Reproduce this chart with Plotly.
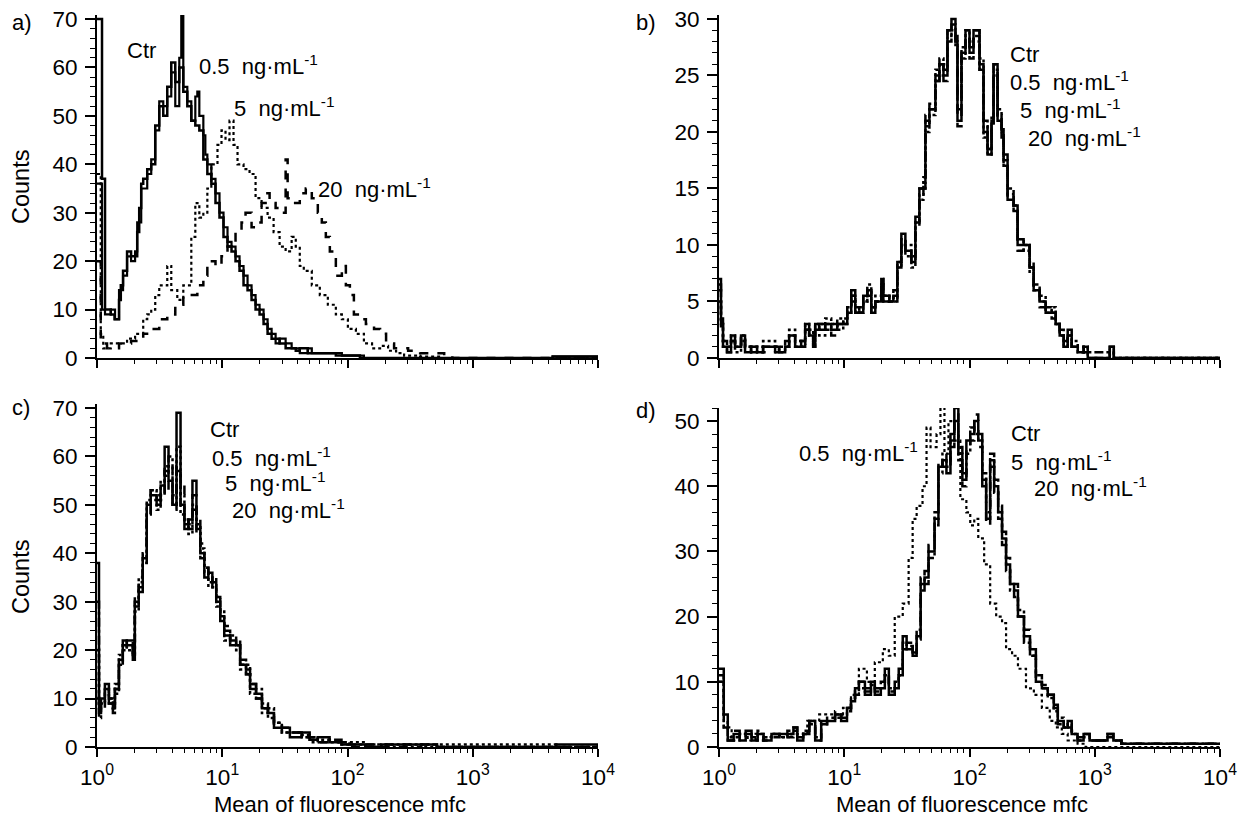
import plotly.graph_objects as go

W, H = 1243, 819
FONT = "Liberation Sans, Arial, sans-serif"

# ---------------- data (x stored as log10 of mean fluorescence) ----------------
# Panel a
a_ctr_logx = [0.000,0.040,0.064,0.110,0.140,0.176,0.190,0.208,0.240,0.272,
              0.304,0.321,0.337,0.353,0.369,0.401,0.433,0.465,0.497,0.529,
              0.561,0.593,0.625,0.657,0.689,0.721,0.753,0.785,0.817,0.849,
              0.881,0.913,0.946,0.978,1.010,1.042,1.074,1.106,1.138,1.170,
              1.202,1.234,1.266,1.298,1.330,1.362,1.394,1.426,1.458,1.506,
              1.554,1.587,1.619,1.683,1.747,1.843,1.907,2.003,2.099,3.638,4.000]
a_ctr_counts = [70,37,10,9,8,12,15,18,22,21,
                21,26,31,36,37,39,40,48,52,50,
                56,61,57,60,55,52,49,48,47,41,
                38,36,32,29,25,23,22,20,18,15,
                14,12,10,9,7,5,4,4,3,2,
                2,1.5,2,1,1,1,0.5,0.5,0,0.3,0.3]

a_05_logx = [0.000,0.040,0.064,0.110,0.144,0.176,0.208,0.240,0.272,0.304,
             0.321,0.353,0.401,0.433,0.465,0.497,0.529,0.561,0.593,0.625,
             0.657,0.673,0.689,0.721,0.753,0.785,0.801,0.817,0.849,0.865,
             0.881,0.913,0.946,0.978,1.010,1.042,1.074,1.106,1.138,1.170,
             1.202,1.234,1.266,1.298,1.330,1.362,1.394,1.426,1.458,1.506,
             1.554,1.619,1.683,1.715,1.779,1.875,1.955,2.067,2.131,3.638,4.000]
a_05_counts = [36,10,9,10,8,14,17,21,20,22,
               28,35,38,41,47,53,52,54,59,52,
               62,71,56,53,49,54,55,50,46,42,
               40,37,34,30,27,24,23,21,19,17,
               15,13,11,10,8,6,5,3,4,3,
               2,1,2,1,1,1,0.5,0.5,0,0.3,0.3]

a_5_logx = [0.000,0.030,0.050,0.110,0.176,0.240,0.304,0.369,0.401,0.433,
            0.465,0.497,0.561,0.593,0.641,0.689,0.753,0.785,0.817,0.849,
            0.881,0.913,0.962,0.994,1.026,1.058,1.090,1.122,1.170,1.218,
            1.266,1.314,1.362,1.410,1.458,1.506,1.554,1.587,1.619,1.651,
            1.715,1.779,1.843,1.907,1.955,2.003,2.067,2.131,2.196,2.260,
            2.324,2.388,2.452,2.580,2.740,4.000]
a_5_counts = [38,5,2,3,3,4,5,8,9,10,
              13,15,19,14,12,15,25,32,29,30,
              35,40,44,47,45,49,44,40,39,38,
              33,31,29,26,23,22,25,23,19,18,
              15,13,11,9,8,6,5,3,2,2.5,
              1.5,1,0.5,0.3,0,0]

a_20_logx = [0.000,0.030,0.080,0.176,0.272,0.369,0.433,0.497,0.561,0.625,
             0.689,0.753,0.801,0.849,0.881,0.946,0.994,1.042,1.074,1.106,
             1.154,1.186,1.234,1.266,1.314,1.346,1.378,1.426,1.474,1.506,
             1.522,1.571,1.619,1.667,1.715,1.763,1.795,1.827,1.859,1.907,
             1.955,1.987,2.019,2.051,2.099,2.147,2.212,2.260,2.308,2.372,
             2.420,2.484,2.580,2.676,2.772,2.837,4.000]
a_20_counts = [20,3,2,3,3.5,5,6,8,9,11,
               13,13,15,17,20,19,21,23,24,26,
               28,30,27,28,32,34,32,31,30,41,
               33,32,34,35,33,30,28,25,22,17,
               19,15,13,9,8,7,6,5,3,2,
               2,1.5,1,1,0.5,0,0]

# Panel b (all four series on a common channel grid)
b_logx = [0.000,0.016,0.032,0.064,0.096,0.128,0.176,0.208,0.256,0.304,
          0.352,0.448,0.480,0.528,0.560,0.608,0.656,0.688,0.720,0.752,
          0.768,0.800,0.848,0.896,0.944,0.992,1.024,1.056,1.088,1.120,
          1.152,1.184,1.216,1.248,1.296,1.312,1.360,1.392,1.424,1.456,
          1.488,1.536,1.568,1.600,1.632,1.648,1.680,1.728,1.760,1.792,
          1.824,1.856,1.888,1.904,1.936,1.968,2.000,2.032,2.080,2.112,
          2.144,2.176,2.192,2.224,2.256,2.272,2.304,2.352,2.384,2.432,
          2.480,2.512,2.560,2.608,2.656,2.688,2.720,2.752,2.784,2.816,
          2.864,2.912,2.944,3.120,3.152,4.000]
b_ctr = [7,3.5,1,0.5,2,1,2,0.5,1,0.5, 1,1,0.5,1,2,1,1.5,3,2,1,
         3,2.5,3,2.5,3,3,4,6,4,4, 5.5,6,4,5,7,5,5,5.5,8,11,
         9.5,8.5,12,15,15,21,22,25,26,25, 29,30,28,21,27,29,27,29,26,20,
         18,21,26,21,20,17.5,14,13.5,10,10, 8,6,5,4,4,3,2,1,2.5,1,
         0.5,1,0,1,0,0]
b_05 = [6,3,1.5,1,1.5,1,2,1,0.5,1, 1,0.5,1,1.5,2,1.5,1,2.5,2,1.5,
        2.5,3,2.5,3,3.5,3,4.5,5.5,4.5,4, 5,6.5,4.5,5,6.5,5.5,5,6,8.5,10.5,
        9,9,12.5,14.5,15.5,20,22.5,24.5,26.5,25.5, 28,29.5,28.5,22,27.5,28,27.5,28.5,25.5,21,
        18.5,20.5,25,21.5,19.5,17,14.5,13,10.5,9.5, 8.5,6.5,5,4.5,3.5,3,2.5,1.5,2,1,
        1,0.5,0.5,1,0,0]
b_5 = [5,3,1,1,2,0.5,1.5,1,1,0.5, 1.5,1,0.5,1,2.5,1,1,3,2.5,1,
       3,2,3.5,3,2.5,3.5,4,5.5,4,4.5, 5,6,4.5,5.5,6.5,5,5.5,5,8,10,
       10,8,12,14,16,20.5,21.5,25.5,25,26, 28.5,29,27.5,23,26.5,29,28,28,26.5,19.5,
       18,21.5,25.5,22,20.5,17,15,13,10.5,10, 7.5,6,5.5,4,4.5,3,2,1,2,1.5,
       0.5,1,0,0.5,0,0]
b_20 = [6.5,2.5,1.5,0.5,1.5,1,2,0.5,1,1, 0.5,1,1,1,1.5,1.5,1.5,2.5,2,1,
        2.5,3,3,2,3,3,4.5,5,4,4, 6,5.5,4,5,7,5.5,5,5,8.5,10.5,
        9.5,8.5,11.5,15,15,21.5,22,24.5,26,24.5, 29,28.5,28,20.5,27,28.5,26.5,29,25.5,20.5,
        18.5,20,26,21,20,18,14,13.5,9.5,10, 8,6.5,4.5,4,4,3.5,2,1,2,1,
        1,0.5,0,1,0,0]

# Panel c (common grid)
c_logx = [0.000,0.016,0.032,0.063,0.095,0.127,0.143,0.175,0.206,0.238,
          0.286,0.302,0.333,0.365,0.397,0.429,0.476,0.508,0.540,0.571,
          0.603,0.635,0.667,0.698,0.730,0.762,0.794,0.825,0.857,0.889,
          0.921,0.952,0.984,1.016,1.063,1.111,1.143,1.190,1.222,1.270,
          1.317,1.365,1.413,1.476,1.540,1.635,1.698,1.762,1.857,1.952,
          2.016,2.143,2.270,2.587,2.714,3.667,4.000]
c_ctr = [38,7,10,13,9,8,12,18,22,21, 18,30,33,39,50,52,50,54,62,55,
         50,69,50,45,47,55,45,40,35,36, 34,30,27,23,22,21,17,16,12,11,
         8,7,4,4,2,3,1.5,2,1,0.5, 0.5,0,0.5,0.5,0,0.5,0.5]
c_05 = [30,6,9,12,10,7,13,17,20,22, 19,29,35,40,48,53,51,52,58,60,
        52,57,48,47,45,50,47,39,37,34, 35,31,26,24,21,22,18,15,13,10,
        9,6,5,3,3,2,2,1,1.5,1, 0.5,0.5,0,0.5,0,0,0.5]
c_5 = [20,8,9,11,10,8,11,19,21,20, 19,28,34,38,51,51,49,55,56,58,
       50,62,52,46,44,49,46,41,36,33, 33,29,28,22,23,20,16,17,11,12,
       7,8,5,3,3,2.5,1,1.5,1,0.5, 1,0,0.5,0,0.5,0,0.5]
c_20 = [10,9,8,12,9,9,12,16,21,22, 20,31,32,37,47,53,52,51,57,53,
        49,58,54,47,46,52,44,42,37,35, 33,31,26,25,21,21,17,15,13,10,
        8,7,4,4,3,2,2,1,1,1, 0,0.5,0.5,0.5,0,0,0.5]

# Panel d
d_logx = [0.000,0.038,0.070,0.117,0.165,0.213,0.260,0.308,0.356,0.419,
          0.483,0.546,0.594,0.625,0.673,0.721,0.768,0.816,0.863,0.927,
          0.975,1.022,1.054,1.086,1.117,1.165,1.213,1.244,1.292,1.324,
          1.356,1.403,1.435,1.467,1.498,1.546,1.578,1.610,1.641,1.673,
          1.721,1.752,1.784,1.816,1.848,1.879,1.911,1.943,1.975,2.006,
          2.038,2.070,2.102,2.133,2.165,2.197,2.229,2.260,2.292,2.324,
          2.356,2.387,2.435,2.483,2.530,2.578,2.625,2.673,2.705,2.752,
          2.784,2.816,2.863,2.911,2.959,3.022,3.102,3.149,3.213,4.000]
d_ctr = [12,5,1,2,1,2.5,1,2,1,2, 2,2,3,1,2,4,1,4,4,5,
         4,6,7,9,10,8,10,8,9,12, 8,9,11,17,15,14,17,25,26,30,
         35,43,44,42,48,52,45,41,47,48, 50,48,41,35,44,40,36,32,28,25,
         24,20,17,15,10,9,8,6,4,3, 4,2,1,2,1,1,2,1,0.5,0.5]
d_5 = [10,4,1.5,1.5,2,2,1.5,1,1.5,2, 1.5,2.5,2.5,1.5,2.5,3.5,1.5,3.5,4.5,4.5,
       5,5.5,7.5,8.5,9,9,9.5,8.5,10,11, 9,10,12,15,16,14.5,18,24,27,29,
       36,42,45,43,46,50,44,42,45,49, 48,47,42,36,45,39,35,33,27,24,
       23,21,16,14,11,9,7.5,5.5,4.5,3, 3.5,2,1.5,1.5,1,1,1.5,1,0.5,0.5]
d_20 = [11,3,1,2.5,1.5,2,1.5,2.5,1,1.5, 2,1.5,3,1.5,2,4,1,3.5,4,5.5,
        4.5,6,6.5,8,10,8.5,9.5,9,9.5,11.5, 8.5,9.5,11,16,15.5,14,16.5,26,25,31,
        34,44,43,43,47,51,46,40,46,47, 51,46,40,34,43,41,37,31,29,26,
        25,20,18,14,10.5,9.5,8,6.5,3.5,3.5, 3,2.5,1,2,1,1,2,1,0.5,0.5]
d_05_logx = [0.000,0.038,0.101,0.165,0.229,0.292,0.356,0.419,0.483,0.578,
             0.705,0.800,0.895,0.990,1.054,1.117,1.181,1.244,1.308,1.356,
             1.403,1.467,1.514,1.546,1.578,1.625,1.657,1.689,1.737,1.768,
             1.800,1.832,1.879,1.927,1.975,2.006,2.038,2.070,2.117,2.165,
             2.213,2.260,2.292,2.340,2.387,2.451,2.514,2.578,2.641,2.689,
             2.737,2.784,2.863,2.927,4.000]
d_05_counts = [10,3,1,2,1,2,1.5,2,1.5,2, 4,5,5,6,8,12,10,13,15,14,
               20,22,29,35,37,40,49,46,48,52, 45,50,47,38,36,34,35,32,28,22,
               20,19,15,14,12,9,8,6,4,3, 2,1,0.5,0,0]

# axis ticks
decade_vals = [1, 10, 100, 1000, 10000]
decade_text = ["10<sup>0</sup>", "10<sup>1</sup>", "10<sup>2</sup>", "10<sup>3</sup>", "10<sup>4</sup>"]
minor_vals = [m * 10 ** d for d in range(4) for m in range(2, 10)]

SUP = "\u00a0 ng\u00b7mL<sup>-1</sup>"

# ---------------- figure ----------------
fig = go.Figure()

def add(logx, counts, axis_idx, dash, width):
    sfx = "" if axis_idx == 1 else str(axis_idx)
    fig.add_trace(go.Scatter(
        x=[10 ** v for v in logx], y=counts, mode="lines", line_shape="hv",
        line=dict(color="black", width=width, dash=dash),
        xaxis="x" + sfx, yaxis="y" + sfx, showlegend=False, hoverinfo="skip"))

# a
add(a_20_logx, a_20_counts, 1, "dash", 2.5)
add(a_5_logx, a_5_counts, 1, "dot", 2.2)
add(a_ctr_logx, a_ctr_counts, 1, "solid", 2.5)
add(a_05_logx, a_05_counts, 1, "solid", 2.2)
# b
add(b_logx, b_20, 2, "dash", 2.5)
add(b_logx, b_5, 2, "dot", 2.5)
add(b_logx, b_05, 2, "dashdot", 2.5)
add(b_logx, b_ctr, 2, "solid", 2.5)
# c
add(c_logx, c_20, 3, "dash", 2.5)
add(c_logx, c_5, 3, "dot", 2.5)
add(c_logx, c_05, 3, "dashdot", 2.5)
add(c_logx, c_ctr, 3, "solid", 2.5)
# d
add(d_05_logx, d_05_counts, 4, "dot", 2.2)
add(d_logx, d_20, 4, "dash", 2.5)
add(d_logx, d_5, 4, "dashdot", 2.5)
add(d_logx, d_ctr, 4, "solid", 2.5)

tickfont = dict(family=FONT, size=22.5, color="black")

def xaxis(px0, px1, anchor, labels):
    return dict(type="log", range=[0, 4], domain=[px0 / W, px1 / W], anchor=anchor,
                automargin=False,
                showline=True, linecolor="black", linewidth=1.5,
                ticks="outside", ticklen=8, tickwidth=1.5, tickcolor="black",
                tickmode="array", tickvals=decade_vals, ticktext=decade_text,
                showticklabels=labels, tickfont=tickfont, ticklabelstandoff=1,
                minor=dict(ticks="outside", ticklen=4, tickwidth=1, tickcolor="black",
                           tickmode="array", tickvals=minor_vals, showgrid=False),
                showgrid=False, zeroline=False)

def yaxis(py_top, py_bot, top, major, minor, anchor):
    return dict(range=[0, top], domain=[1 - py_bot / H, 1 - py_top / H], anchor=anchor,
                automargin=False,
                showline=True, linecolor="black", linewidth=2,
                ticks="outside", ticklen=10, tickwidth=1.5, tickcolor="black",
                tick0=0, dtick=major, tickfont=tickfont, ticklabelstandoff=3,
                minor=dict(ticks="outside", ticklen=5, tickwidth=1, tickcolor="black",
                           tick0=0, dtick=minor, showgrid=False),
                showgrid=False, zeroline=False)

fig.update_layout(
    width=W, height=H, margin=dict(l=0, r=0, t=0, b=0, pad=0, autoexpand=False),
    paper_bgcolor="white", plot_bgcolor="white",
    font=dict(family=FONT, size=22, color="black"),
    xaxis=xaxis(97, 598, "y", False),
    yaxis=yaxis(15, 358, 70.83, 10, 2, "x"),
    xaxis2=xaxis(719, 1220, "y2", False),
    yaxis2=yaxis(15, 358, 30.35, 5, 1, "x2"),
    xaxis3=xaxis(97, 598, "y3", True),
    yaxis3=yaxis(404, 747, 70.83, 10, 2, "x3"),
    xaxis4=xaxis(719, 1220, "y4", True),
    yaxis4=yaxis(408, 747, 52.0, 10, 2, "x4"),
)

def ann(text, px, py, xanchor="left", size=22, angle=0):
    fig.add_annotation(text=text, x=px / W, y=1 - py / H, xref="paper", yref="paper",
                       xanchor=xanchor, yanchor="middle", showarrow=False,
                       textangle=angle, font=dict(family=FONT, size=size, color="black"))

# panel letters
ann("a)", 10, 22)
ann("b)", 634, 22)
ann("c)", 10, 407)
ann("d)", 634, 410)

# axis titles
ann("Counts", 21, 187, xanchor="center", size=23.5, angle=-90)
ann("Counts", 21, 577, xanchor="center", size=23.5, angle=-90)
ann("Mean of fluorescence mfc", 340, 804, xanchor="center", size=22)
ann("Mean of fluorescence mfc", 962, 804, xanchor="center", size=22)

# series labels
ann("Ctr", 125, 50)
ann("0.5" + SUP, 197, 65)
ann("5" + SUP, 232, 107)
ann("20" + SUP, 316, 188)

ann("Ctr", 1008, 55)
ann("0.5" + SUP, 1008, 81)
ann("5" + SUP, 1018, 109)
ann("20" + SUP, 1026, 137)

ann("Ctr", 208, 429)
ann("0.5" + SUP, 210, 457)
ann("5" + SUP, 223, 482)
ann("20" + SUP, 230, 509)

ann("0.5" + SUP, 797, 452)
ann("Ctr", 1009, 433)
ann("5" + SUP, 1009, 461)
ann("20" + SUP, 1032, 487)

fig.write_html(
    "out.html",
    config={"displayModeBar": False},
    post_script="document.body.style.margin='0px';document.body.style.padding='0px';",
)
